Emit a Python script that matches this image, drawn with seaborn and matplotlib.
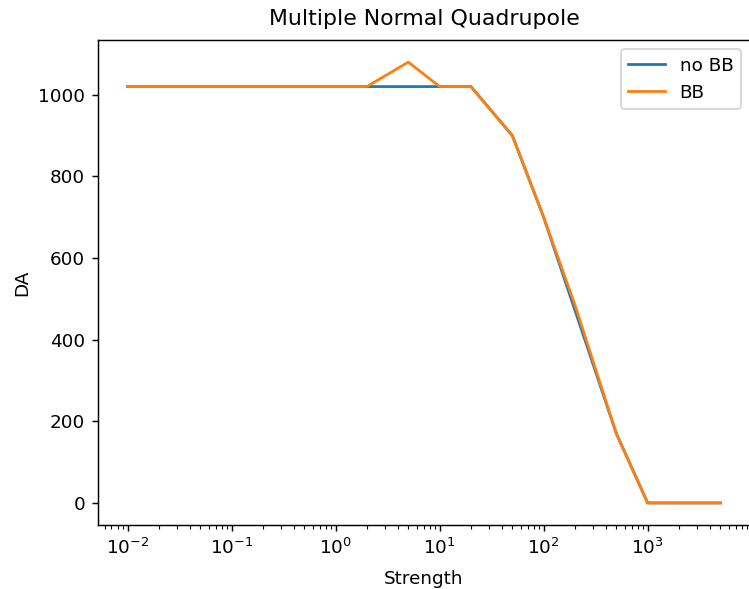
import matplotlib
matplotlib.use("Agg")
import matplotlib.pyplot as plt
import seaborn as sns
import pandas as pd

strength = [0.01, 0.02, 0.05, 0.1, 0.2, 0.5, 1, 2, 5, 10, 20, 50, 100, 200, 500, 1000, 2000, 5000]
da_no_bb = [1020, 1020, 1020, 1020, 1020, 1020, 1020, 1020, 1020, 1020, 1020, 900, 700, 472, 170, 0, 0, 0]
da_bb = [1020, 1020, 1020, 1020, 1020, 1020, 1020, 1020, 1080, 1020, 1020, 900, 700, 485, 170, 0, 0, 0]
series_names = ["no BB", "BB"]
xtick_values = [1e-2, 1e-1, 1e0, 1e1, 1e2, 1e3]

df = pd.DataFrame({
    "Strength": strength * 2,
    "DA": da_no_bb + da_bb,
    "series": [series_names[0]] * len(strength) + [series_names[1]] * len(strength),
})

DPI = 132
fig = plt.figure(figsize=(749 / DPI, 589 / DPI), dpi=DPI)
ax = fig.add_axes([0.1308, 0.1087, 0.8705, 0.8233])
sns.lineplot(data=df, x="Strength", y="DA", hue="series", hue_order=series_names,
             palette=["#1f77b4", "#ff7f0e"], ax=ax, linewidth=1.5)
ax.set_xscale("log")
ax.set_xticks(xtick_values)
ax.set_title("Multiple Normal Quadrupole", pad=8)
ax.set_xlabel("Strength", labelpad=6.5)
ax.set_ylabel("DA")
ax.legend(loc="upper right")
fig.savefig("out.png", dpi=DPI)
